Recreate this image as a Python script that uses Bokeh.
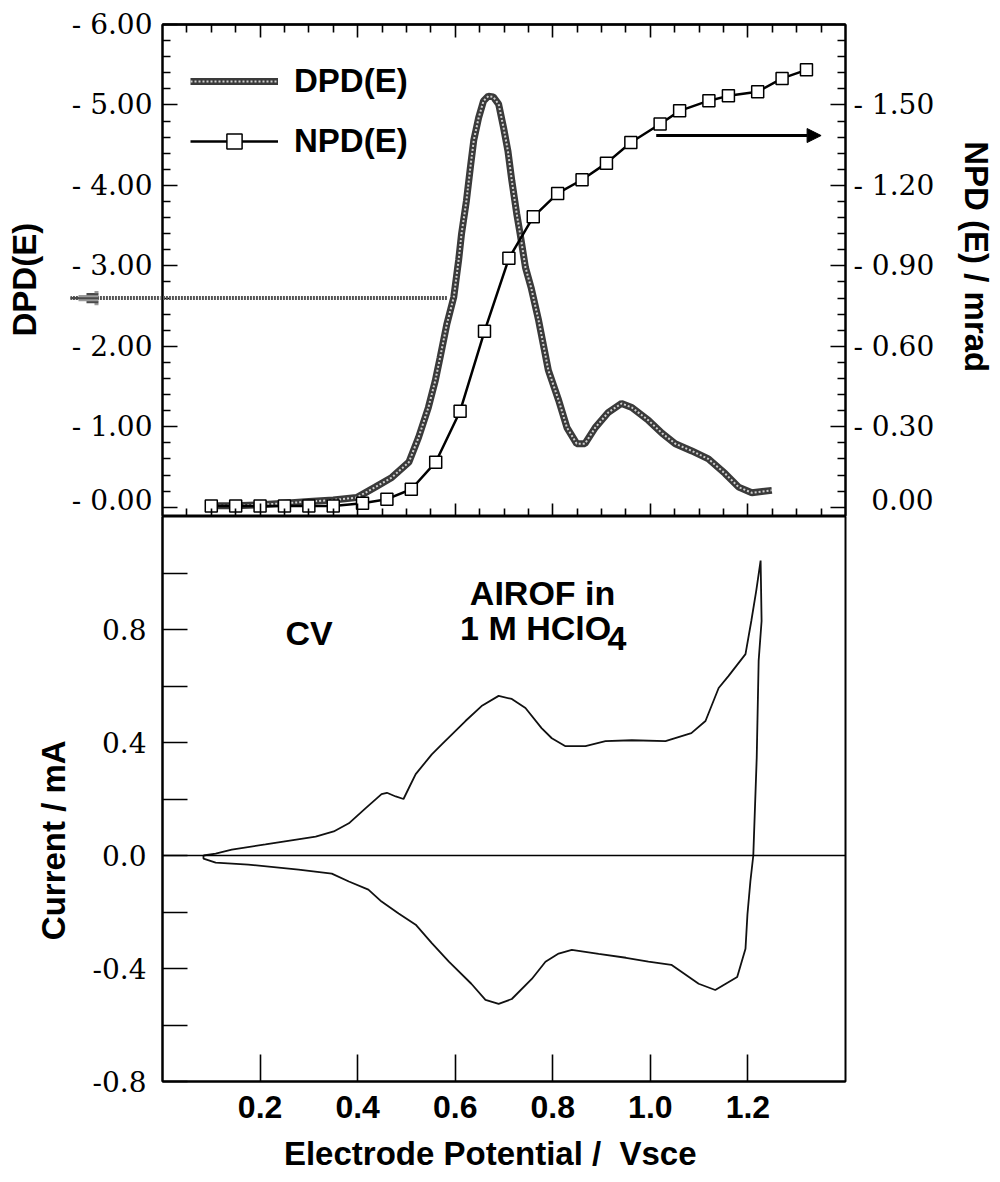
from bokeh.plotting import figure
from bokeh.models import (Range1d, LinearAxis, FixedTicker, Arrow, NormalHead,
                          Label, Legend, LegendItem, Span)
from bokeh.layouts import column
from bokeh.embed import file_html
from bokeh.resources import INLINE

# ---------------- data ----------------
dpd_potential = [0.10, 0.15, 0.20, 0.25, 0.30, 0.35, 0.398, 0.436, 0.470, 0.505,
                 0.525, 0.545, 0.559, 0.569, 0.583, 0.597, 0.607, 0.613, 0.623, 0.631,
                 0.638, 0.648, 0.658, 0.668, 0.678, 0.689, 0.699, 0.708, 0.716, 0.726,
                 0.733, 0.744, 0.756, 0.771, 0.791, 0.812, 0.829, 0.849, 0.866, 0.887,
                 0.914, 0.941, 0.962, 0.996, 1.024, 1.051, 1.085, 1.119, 1.153, 1.181,
                 1.208, 1.249]
dpd_value = [0.02, 0.02, 0.03, 0.05, 0.07, 0.09, 0.12, 0.25, 0.37, 0.56,
             0.87, 1.24, 1.57, 1.86, 2.28, 2.61, 3.07, 3.40, 3.81, 4.22,
             4.56, 4.84, 5.05, 5.11, 5.10, 5.01, 4.72, 4.43, 4.06, 3.65,
             3.40, 2.98, 2.72, 2.32, 1.70, 1.33, 0.99, 0.79, 0.79, 0.99,
             1.18, 1.29, 1.24, 1.08, 0.92, 0.79, 0.70, 0.60, 0.42, 0.25,
             0.18, 0.21]

npd_potential = [0.10, 0.15, 0.20, 0.25, 0.30, 0.35, 0.41, 0.46, 0.51, 0.56,
                 0.61, 0.66, 0.71, 0.76, 0.81, 0.86, 0.91, 0.96, 1.02, 1.06,
                 1.12, 1.16, 1.22, 1.27, 1.32]
npd_mrad = [0.005, 0.005, 0.005, 0.005, 0.005, 0.005, 0.015, 0.030, 0.067, 0.168,
            0.358, 0.656, 0.928, 1.083, 1.170, 1.221, 1.283, 1.360, 1.429, 1.478,
            1.516, 1.534, 1.549, 1.599, 1.631]

cv_potential = [0.084, 0.109, 0.142, 0.211, 0.261, 0.314, 0.351, 0.382, 0.416, 0.449,
                0.460, 0.478, 0.494, 0.505, 0.519, 0.552, 0.573, 0.621, 0.654, 0.689,
                0.716, 0.744, 0.777, 0.798, 0.826, 0.867, 0.908, 0.962, 1.031, 1.084,
                1.113, 1.140, 1.160, 1.195, 1.207, 1.217, 1.226,
                1.228, 1.222, 1.218, 1.211, 1.205, 1.199, 1.195, 1.178, 1.133, 1.099,
                1.043, 0.996, 0.950, 0.894, 0.839, 0.812, 0.785, 0.757, 0.716, 0.689,
                0.662, 0.633, 0.587, 0.552, 0.519, 0.484, 0.449, 0.422, 0.382, 0.347,
                0.279, 0.176, 0.109, 0.084, 0.084]
cv_current = [0.000, 0.007, 0.021, 0.039, 0.053, 0.067, 0.085, 0.114, 0.167, 0.217,
              0.222, 0.209, 0.200, 0.239, 0.288, 0.358, 0.394, 0.476, 0.529, 0.565,
              0.554, 0.522, 0.451, 0.415, 0.387, 0.387, 0.405, 0.408, 0.405, 0.433,
              0.476, 0.593, 0.635, 0.713, 0.831, 0.937, 1.044,
              0.830, 0.690, 0.345, 0.000, -0.092, -0.209, -0.330, -0.430, -0.476, -0.454,
              -0.387, -0.376, -0.362, -0.348, -0.334, -0.347, -0.376, -0.437, -0.508, -0.525,
              -0.511, -0.454, -0.376, -0.310, -0.245, -0.205, -0.163, -0.121, -0.092, -0.064,
              -0.050, -0.032, -0.025, -0.011, 0.000]

dpd_ticks = [0, 1, 2, 3, 4, 5, 6]
dpd_tick_labels = ["- 0.00", "- 1.00", "- 2.00", "- 3.00", "- 4.00", "- 5.00", "- 6.00"]
npd_ticks = [0.0, 0.3, 0.6, 0.9, 1.2, 1.5]
npd_tick_labels = ["\u00a0\u00a00.00", "- 0.30", "- 0.60", "- 0.90", "- 1.20", "- 1.50"]
pot_ticks = [0.2, 0.4, 0.6, 0.8, 1.0, 1.2]
pot_tick_labels = ["0.2", "0.4", "0.6", "0.8", "1.0", "1.2"]
cur_ticks = [-0.8, -0.4, 0.0, 0.4, 0.8]
cur_tick_labels = ["-0.8", "-0.4", "0.0", "0.4", "0.8"]
cur_unlabeled_ticks = [-0.6, -0.2, 0.2, 0.6, 1.0]

# annotation positions (data units)
left_arrow = dict(x_start=0.583, x_tip=-0.1886, y=2.6)
right_arrow = dict(x_start=1.012, x_end=1.35, y=4.62)

NUM_FONT = "DejaVu Serif"
BOLD_FONT = "Liberation Sans"
TITLE_SIZE = "33px"
NB = "\u00a0"
NPD_SCALE = 0.3  # mrad per DPD unit on the twin axis
PX_PER_V = 683 / 1.4          # horizontal screen scale of both panels
PX_PER_DPD = 492 / 6.115      # vertical screen scale of the top panel
HEAD_LEN_PX, HEAD_HALF_PX = 28, 7

dpd_minor = [round(0.2 * k, 2) for k in range(31) if k % 5]
npd_minor = [round(0.06 * k, 2) for k in range(31) if k % 5]
pot_minor = [round(0.05 * k, 2) for k in range(1, 28) if k % 4]

x_range = Range1d(0.0, 1.4)


def style_axis(ax, tick_in, minor_in=0, font=NUM_FONT, size="28px", style="normal"):
    ax.major_tick_in = tick_in
    ax.major_tick_out = 0
    ax.minor_tick_in = minor_in
    ax.minor_tick_out = 0
    ax.axis_line_width = 2
    ax.major_tick_line_width = 1.6
    ax.minor_tick_line_width = 1.6
    ax.major_label_text_font = font
    ax.major_label_text_font_size = size
    ax.major_label_text_font_style = style
    ax.major_label_text_color = "black"
    ax.axis_label_text_font = BOLD_FONT
    ax.axis_label_text_font_style = "bold"
    ax.axis_label_text_font_size = TITLE_SIZE
    ax.axis_label_text_color = "black"


def hidden_head(size):
    return NormalHead(size=size, fill_alpha=0, line_alpha=0)


# ---------------- top panel: DPD / NPD ----------------
top = figure(width=1000, height=516, x_range=x_range, y_range=Range1d(-0.115, 6.0),
             output_backend="svg", toolbar_location=None,
             x_axis_location=None, y_axis_location=None,
             min_border_left=162, min_border_right=155, min_border_top=24, min_border_bottom=0)
top.extra_y_ranges = {"npd": Range1d(-0.115 * NPD_SCALE, 6.0 * NPD_SCALE)}
top.outline_line_color = "black"
top.outline_line_width = 2
top.grid.visible = False

yl = LinearAxis(ticker=FixedTicker(ticks=dpd_ticks, minor_ticks=dpd_minor),
                major_label_overrides=dict(zip(dpd_ticks, dpd_tick_labels)),
                axis_label="DPD(E)" + NB * 2)
style_axis(yl, 15, 8)
yl.major_label_standoff = 10
yl.axis_label_standoff = 26
top.add_layout(yl, "left")

yr = LinearAxis(y_range_name="npd",
                ticker=FixedTicker(ticks=npd_ticks, minor_ticks=npd_minor),
                major_label_overrides=dict(zip(npd_ticks, npd_tick_labels)),
                axis_label="NPD (E) / mrad" + NB * 3)
style_axis(yr, 15, 8)
yr.major_label_standoff = 8
yr.axis_label_standoff = 21
top.add_layout(yr, "right")

# unlabeled potential ticks on the top panel (short every 0.05, long every 0.2)
for loc in ("below", "above"):
    for minor_set, length in ((pot_minor, 8), (pot_ticks, 13)):
        xa = LinearAxis(ticker=FixedTicker(ticks=[], minor_ticks=minor_set))
        style_axis(xa, 0, length)
        xa.major_label_standoff = 0
        top.add_layout(xa, loc)

dpd_base = top.line(dpd_potential, dpd_value, line_color="#3a3a3a", line_width=7)
dpd_tex = top.line(dpd_potential, dpd_value, line_color="#cfcfcf", line_width=2,
                   line_dash="2 2")
npd_line = top.line(npd_potential, npd_mrad, y_range_name="npd",
                    line_color="black", line_width=2.5)
npd_pts = top.scatter(npd_potential, npd_mrad, y_range_name="npd", marker="square",
                      size=12, fill_color="white", line_color="black", line_width=1.5)

# left (DPD) arrow, which runs out past the axis: shaft ...
tip_px_from_frame = -left_arrow["x_tip"] * PX_PER_V
top.add_layout(Arrow(end=hidden_head(tip_px_from_frame - 2),
                     x_start=left_arrow["x_start"], y_start=left_arrow["y"],
                     x_end=left_arrow["x_tip"], y_end=left_arrow["y"],
                     line_color="#555555", line_width=4, line_dash="2 1"))
# ... and a grey triangular head built from thin horizontal strokes
head_base = left_arrow["x_tip"] + HEAD_LEN_PX / PX_PER_V
for k, dy in enumerate(range(-6, 7, 2)):
    x_left = left_arrow["x_tip"] + abs(dy) * (HEAD_LEN_PX / HEAD_HALF_PX) / PX_PER_V
    seg_len = (head_base - x_left) * PX_PER_V
    y_k = left_arrow["y"] + dy / PX_PER_DPD
    top.add_layout(Arrow(end=hidden_head(seg_len + 4),
                         x_start=head_base, y_start=y_k, x_end=x_left, y_end=y_k,
                         line_color="#4a4a4a" if k % 2 else "#9a9a9a",
                         line_width=2.2, line_cap="butt"))

top.add_layout(Arrow(end=NormalHead(size=14, fill_color="black", line_color="black"),
                     x_start=right_arrow["x_start"], y_start=right_arrow["y"],
                     x_end=right_arrow["x_end"], y_end=right_arrow["y"],
                     line_color="black", line_width=3))

legend = Legend(items=[LegendItem(label="DPD(E)", renderers=[dpd_base, dpd_tex]),
                       LegendItem(label="NPD(E)", renderers=[npd_line, npd_pts])],
                location=(28, 356), orientation="vertical",
                border_line_color=None, background_fill_alpha=0,
                padding=0, margin=0, glyph_width=88, glyph_height=38,
                label_height=38, label_standoff=16, spacing=22,
                label_text_font=BOLD_FONT, label_text_font_style="bold",
                label_text_font_size=TITLE_SIZE, label_text_color="black")
top.add_layout(legend)

# ---------------- bottom panel: CV ----------------
bot = figure(width=1000, height=666, x_range=x_range, y_range=Range1d(-0.8, 1.2),
             output_backend="svg", toolbar_location=None,
             x_axis_location=None, y_axis_location=None,
             min_border_left=162, min_border_right=155, min_border_top=0, min_border_bottom=101)
bot.outline_line_color = "black"
bot.outline_line_width = 2
bot.grid.visible = False

bl = LinearAxis(ticker=FixedTicker(ticks=cur_ticks, minor_ticks=cur_unlabeled_ticks),
                major_label_overrides=dict(zip(cur_ticks, cur_tick_labels)),
                axis_label="Current / mA" + NB * 9)
style_axis(bl, 25, 25)
bl.major_label_standoff = 16
bl.axis_label_standoff = 18
bot.add_layout(bl, "left")

bx = LinearAxis(ticker=FixedTicker(ticks=pot_ticks),
                major_label_overrides=dict(zip(pot_ticks, pot_tick_labels)),
                axis_label="Electrode Potential /" + NB * 2 + "Vsce" + NB * 3)
style_axis(bx, 27, font=BOLD_FONT, size="32px", style="bold")
bx.major_label_standoff = 14
bx.axis_label_standoff = 14
bot.add_layout(bx, "below")

bot.add_layout(Span(location=0, dimension="width", line_color="black", line_width=1.5))
bot.line(cv_potential, cv_current, line_color="#111111", line_width=1.8)

label_kw = dict(text_font=BOLD_FONT, text_font_style="bold", text_font_size="34px",
                text_color="black", text_baseline="alphabetic")
bot.add_layout(Label(x=0.252, y=0.788, text="CV", **label_kw))
bot.add_layout(Label(x=0.630, y=0.930, text="AIROF in", **label_kw))
bot.add_layout(Label(x=0.610, y=0.806, text="1 M HClO", **label_kw))
bot.add_layout(Label(x=0.912, y=0.767, text="4", **label_kw))

layout = column(top, bot, spacing=0)
open("out.html", "w").write(file_html(layout, INLINE))
